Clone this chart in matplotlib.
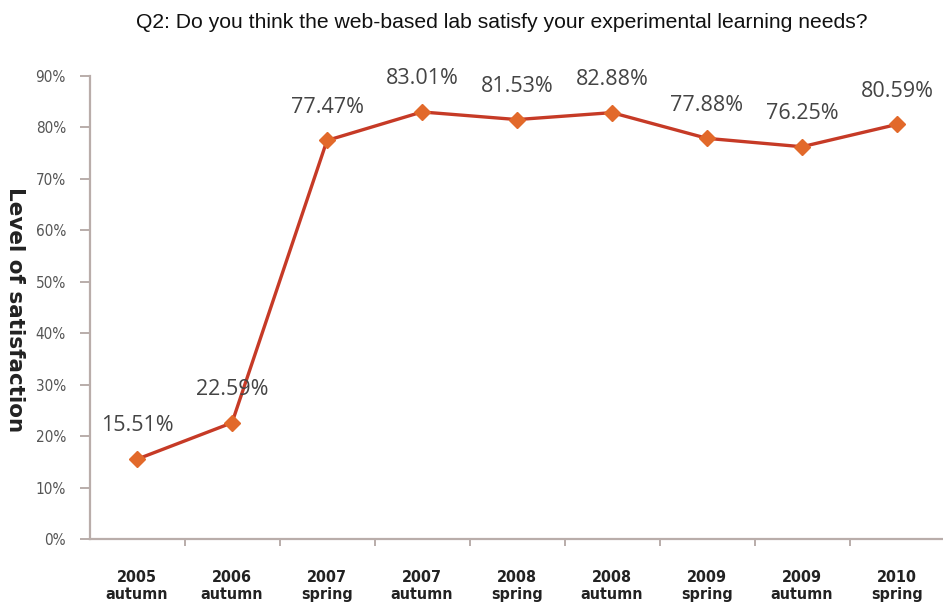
import matplotlib
matplotlib.use("Agg")
import matplotlib.pyplot as plt
from matplotlib.ticker import FixedLocator, NullFormatter, PercentFormatter

# Survey results per semester
years = ["2005", "2006", "2007", "2007", "2008", "2008", "2009", "2009", "2010"]
terms = ["autumn", "autumn", "spring", "autumn", "spring", "autumn", "spring", "autumn", "spring"]
satisfaction = [15.51, 22.59, 77.47, 83.01, 81.53, 82.88, 77.88, 76.25, 80.59]
y_ticks = [0, 10, 20, 30, 40, 50, 60, 70, 80, 90]

W, H = 943, 607
fig = plt.figure(figsize=(W / 100, H / 100), dpi=100)
fig.patch.set_facecolor("white")

# axes placed in pixel units
left, right, bottom, top = 89.5, 944.5, 539, 76
ax = fig.add_axes([left / W, (H - bottom) / H, (right - left) / W, (bottom - top) / H])

x = list(range(len(satisfaction)))
ax.plot(x, satisfaction, color="#c63a26", linewidth=2.4, zorder=3,
        marker="D", markersize=8, markerfacecolor="#e2692a",
        markeredgecolor="#e2692a", solid_joinstyle="miter")

for xi, v in zip(x, satisfaction):
    ax.annotate(f"{v:.2f}%", (xi, v), xytext=(0, 24), textcoords="offset points",
                ha="center", va="center", fontsize=15.5, color="#444444",
                family=["Open Sans", "DejaVu Sans"], zorder=4)

ax.set_xlim(-0.5, len(satisfaction) - 0.5)
ax.set_ylim(0, 90)

axis_color = "#b9adaa"
for side in ("top", "right"):
    ax.spines[side].set_visible(False)
for side in ("left", "bottom"):
    ax.spines[side].set_color(axis_color)
    ax.spines[side].set_linewidth(1.6)

# y axis: percentage ticks pointing outwards
ax.yaxis.set_major_locator(FixedLocator(y_ticks))
ax.yaxis.set_major_formatter(PercentFormatter(decimals=0))
ax.tick_params(axis="y", direction="out", length=7, width=1.4, color=axis_color,
               labelsize=11, labelcolor="#555555", pad=10)
for lbl in ax.get_yticklabels():
    lbl.set_fontstretch("condensed")

# x axis: category labels centred, tick marks between categories
ax.set_xticks(x)
ax.set_xticklabels([f"{yy}\n{t}" for yy, t in zip(years, terms)],
                   fontsize=11.5, fontweight="bold", color="#222222",
                   linespacing=1.2, fontstretch="condensed")
ax.tick_params(axis="x", which="major", length=0, pad=22)
ax.xaxis.set_minor_locator(FixedLocator([i - 0.5 for i in range(1, len(satisfaction) + 1)]))
ax.xaxis.set_minor_formatter(NullFormatter())
ax.tick_params(axis="x", which="minor", direction="out", length=5, width=1.4, color=axis_color)

fig.text(15 / W, 1 - 310 / H, "Level of satisfaction", rotation=270,
         ha="center", va="center", fontsize=15.5, fontweight="bold", color="#222222",
         family="DejaVu Sans")

fig.text(502 / W, 1 - 23 / H,
         "Q2: Do you think the web-based lab satisfy your experimental learning needs?",
         ha="center", va="center", fontsize=15.2, color="#111111",
         family=["Liberation Sans", "DejaVu Sans"])

fig.savefig("out.png", dpi=100, facecolor="white")
